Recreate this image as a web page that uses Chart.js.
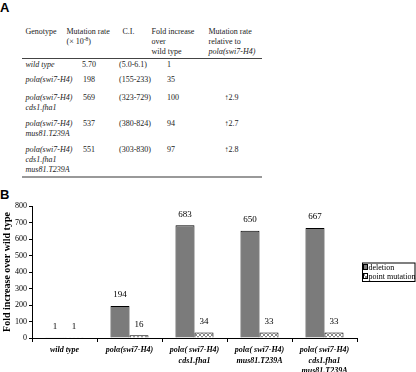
<!DOCTYPE html>
<html><head><meta charset="utf-8">
<script src="https://cdn.jsdelivr.net/npm/chart.js@4"></script>
<style>
html,body{margin:0;padding:0;background:#fff;width:416px;height:372px;overflow:hidden;position:relative;font-family:"Liberation Serif","Times New Roman",serif;color:#222}
.t{position:absolute;font-size:8px;line-height:10px;white-space:nowrap}
.i{font-style:italic}
.panel{position:absolute;font-family:"Liberation Sans",Arial,sans-serif;font-weight:bold;font-size:13px;color:#000;line-height:13px}
.hl{position:absolute;left:22px;width:240px}
#wrap{position:absolute;left:0;top:183px;width:416px;height:189px}
sup{font-size:5.5px;vertical-align:3px;line-height:0}
</style>
</head><body>
<div class="panel" style="left:0;top:1px">A</div>
<div class="panel" style="left:0;top:188px">B</div>
<div id="table"></div>
<div class="hl" style="top:58px;border-top:1px solid #444"></div>
<div class="hl" style="top:176px;border-top:2px solid #999"></div>
<div id="wrap"><canvas id="c" width="416" height="189"></canvas></div>
<script>
// ---- Table (panel A) data ----
const tableHeaders = [["Genotype"],["Mutation rate","(\u00d7 10<sup>-8</sup>)"],["C.I."],["Fold increase","over","wild type"],["Mutation rate","relative to","<i>pol\u03b1(swi7-H4)</i>"]];
const genotypes = [["wild type"],["pol\u03b1(swi7-H4)"],["pol\u03b1(swi7-H4)","cds1.fha1"],["pol\u03b1(swi7-H4)","mus81.T239A"],["pol\u03b1(swi7-H4)","cds1.fha1","mus81.T239A"]];
const mutationRates = ["5.70","198","569","537","551"];
const ciRanges = ["(5.0-6.1)","(155-233)","(323-729)","(380-824)","(303-830)"];
const foldIncrease = ["1","35","100","94","97"];
const relativeRate = ["","","\u21912.9","\u21912.7","\u21912.8"];

// ---- Chart (panel B) data ----
const categories = [["wild type"],["pol\u03b1(swi7-H4)"],["pol\u03b1( swi7-H4)","cds1.fha1"],["pol\u03b1( swi7-H4)","mus81.T239A"],["pol\u03b1( swi7-H4)","cds1.fha1","mus81.T239A"]];
const seriesNames = ["deletion","point mutation"];
const deletionValues = [1,194,683,650,667];
const pointMutationValues = [1,16,34,33,33];
const yMin = 0, yMax = 800, yStep = 100;

(function(){
  const tb = document.getElementById('table');
  const colX = [25.5, 66.5, 122.5, 151.5, 208.5];
  const headTop = 27;
  tableHeaders.forEach((h,i)=>{
    const d=document.createElement('div');d.className='t';
    d.style.left=colX[i]+'px';d.style.top=headTop+'px';
    d.innerHTML=h.join('<br>');tb.appendChild(d);
  });
  const rowTop = [60, 75, 92.5, 119, 144.5];
  const dataX = [25.5, null, 119, 167, 224.5];
  genotypes.forEach((g,r)=>{
    const add=(html,left,cls,center)=>{const d=document.createElement('div');d.className='t'+(cls?' '+cls:'');
      d.style.top=rowTop[r]+'px';
      if(center){d.style.left=(left-20)+'px';d.style.width='40px';d.style.textAlign='center';} else d.style.left=left+'px';
      d.innerHTML=html;tb.appendChild(d);};
    add(g.join('<br>'),dataX[0],'i');
    add(mutationRates[r],89,'',true);
    add(ciRanges[r],dataX[2]);
    add(foldIncrease[r],dataX[3]);
    if(relativeRate[r]) add(relativeRate[r],dataX[4]);
  });
})();

function makePattern(){
  const c=document.createElement('canvas');c.width=4;c.height=4;
  const g=c.getContext('2d');g.fillStyle='#fff';g.fillRect(0,0,4,4);
  g.fillStyle='#8a8a8a';
  for(let k=0;k<4;k++){g.fillRect(k,k,1,1);g.fillRect(3-k,k,1,1);}
  return g.createPattern(c,'repeat');
}
const pattern = makePattern();

const valueLabels={id:'valueLabels',afterDatasetsDraw(chart){
  const ctx=chart.ctx;ctx.save();ctx.font='9px "Liberation Serif"';ctx.fillStyle='#000';
  ctx.textAlign='center';ctx.textBaseline='middle';
  chart.data.datasets.forEach((ds,i)=>{chart.getDatasetMeta(i).data.forEach((el,j)=>{
    ctx.fillText(String(ds.data[j]),el.x,el.y-11);});});
  ctx.restore();}};

const boxLegend={id:'boxLegend',afterDraw(chart){
  const ctx=chart.ctx;ctx.save();
  const x=362,y=79.5,w=53.5,h=18.5;
  ctx.strokeStyle='#000';ctx.lineWidth=1;ctx.strokeRect(x+0.5,y+0.5,w-1,h);
  ctx.font='8px "Liberation Serif"';ctx.textBaseline='middle';ctx.fillStyle='#000';
  chart.data.datasets.forEach((ds,i)=>{
    const cy=y+4.5+i*9;
    ctx.fillStyle=ds.backgroundColor;ctx.fillRect(363.5,cy-2.5,4,5);
    ctx.strokeStyle='#000';ctx.strokeRect(363.5,cy-2.5,4,5);
    ctx.fillStyle='#000';ctx.fillText(ds.label,368.5,cy+0.5);
  });
  ctx.restore();}};

new Chart(document.getElementById('c'),{
  type:'bar',
  data:{labels:categories,datasets:[
    {label:seriesNames[0],data:deletionValues,backgroundColor:'#7b7b7b',borderColor:'#000',borderWidth:1},
    {label:seriesNames[1],data:pointMutationValues,backgroundColor:pattern,borderColor:'#000',borderWidth:1}
  ]},
  options:{
    responsive:false,animation:false,
    layout:{padding:{left:0,right:59,top:23,bottom:0}},
    datasets:{bar:{categoryPercentage:0.585,barPercentage:1}},
    plugins:{legend:{display:false},tooltip:{enabled:false}},
    scales:{
      x:{
        grid:{drawOnChartArea:false,drawTicks:true,tickLength:4,color:'#000'},
        border:{color:'#000',width:1},
        ticks:{color:'#000',autoSkip:false,maxRotation:0,minRotation:0,padding:3,
          font:{family:'"Liberation Serif"',size:8,style:'italic',weight:'bold',lineHeight:1.3}},
        afterFit:s=>{s.height=34;}
      },
      y:{
        min:yMin,max:yMax,
        grid:{drawOnChartArea:false,drawTicks:true,tickLength:3,color:'#000'},
        border:{color:'#000',width:1},
        ticks:{stepSize:yStep,color:'#000',padding:2,font:{family:'"Liberation Serif"',size:8}},
        title:{display:true,text:'Fold increase over wild type',color:'#000',
          font:{family:'"Liberation Serif"',size:10,weight:'bold'},padding:{top:1,bottom:0}},
        afterFit:s=>{s.width=32;}
      }
    }
  },
  plugins:[valueLabels,boxLegend]
});
</script>
</body></html>
